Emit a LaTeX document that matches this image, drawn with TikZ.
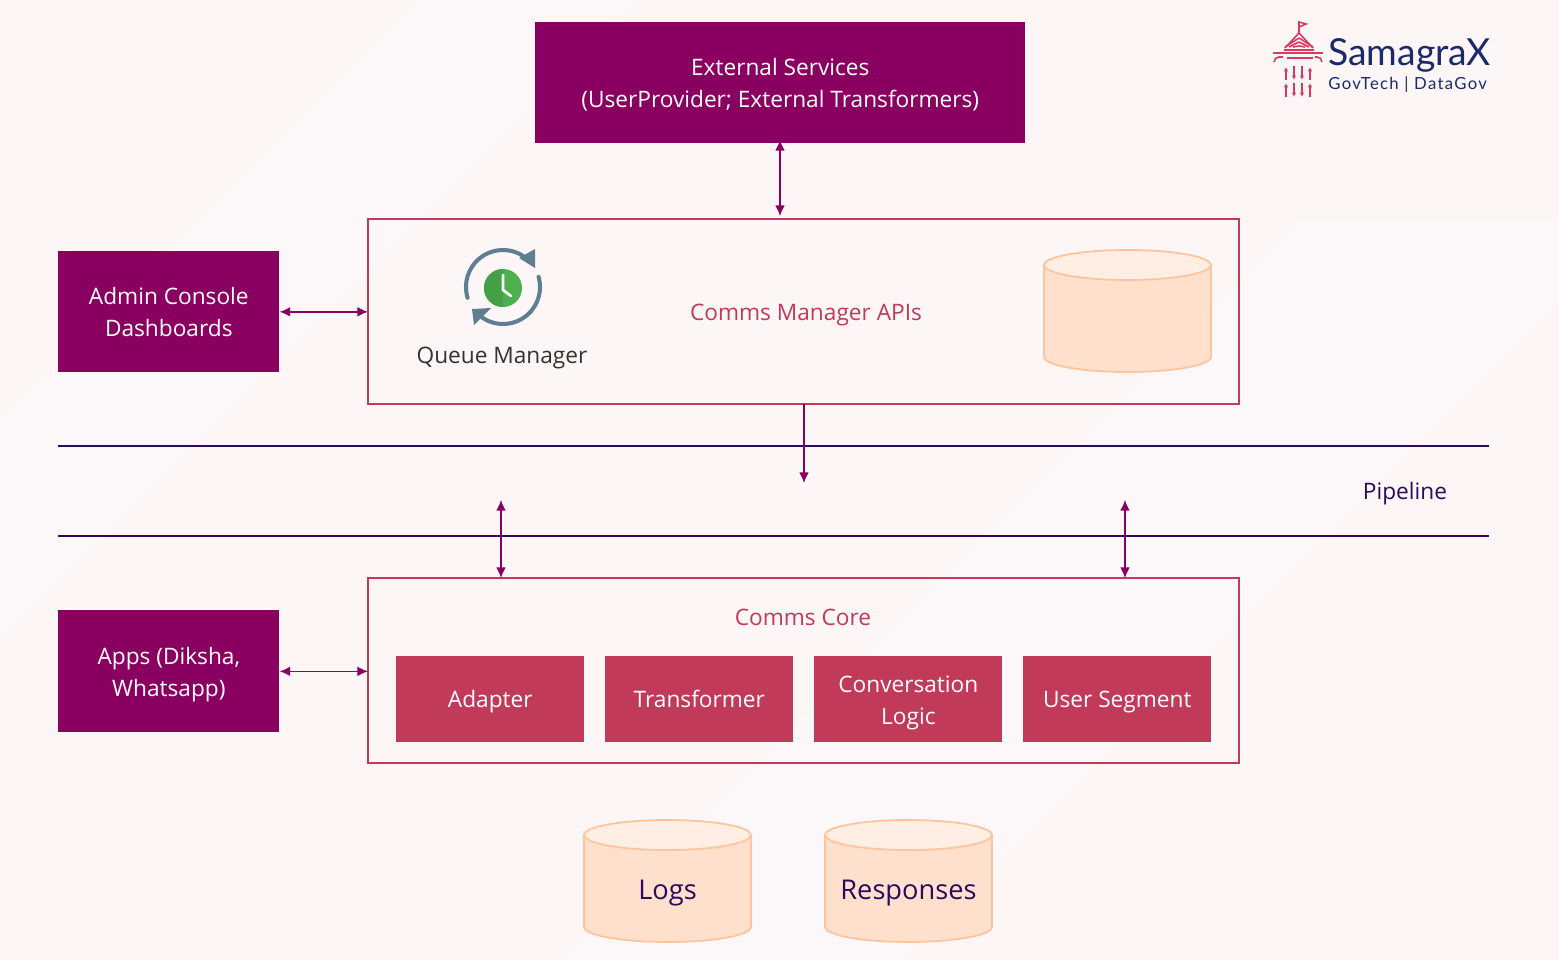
\documentclass[tikz,border=0pt]{standalone}
\usepackage{fontspec}
\setmainfont{Open Sans}
\newfontfamily\logofont{Lato}
\newfontfamily\logospaced[LetterSpace=8]{Lato}
\usetikzlibrary{arrows.meta}
\definecolor{plumbox}{HTML}{8A0060}
\definecolor{rosebox}{HTML}{C13A5A}
\definecolor{pipeink}{HTML}{2C0A5C}
\definecolor{canfill}{HTML}{FFE0CC}
\definecolor{cantop}{HTML}{FEEEE3}
\definecolor{canedge}{HTML}{FFC49B}
\definecolor{pagetint}{HTML}{FCF6F7}
\definecolor{pagelight}{HTML}{FCF8F9}
\definecolor{navylogo}{HTML}{1B2A6B}
\definecolor{logorose}{HTML}{D93A5E}
\definecolor{ringgrey}{HTML}{5F7F90}
\definecolor{clockgreen}{HTML}{4CAF50}
\definecolor{clockdark}{HTML}{43A047}
\tikzset{
	boxtext/.style = {text = white, inner sep = 0pt, align = center, yshift = -2pt, font = \fontsize{12.9}{18}\selectfont},
	plumnode/.style = {fill = plumbox, anchor = north west, inner sep = 0pt},
	corenode/.style = {fill = rosebox, anchor = north west, inner sep = 0pt, minimum width = 3.76cm, minimum height = 1.72cm},
	framenode/.style = {draw = rosebox, line width = 1pt, anchor = north west, inner sep = 0pt, outer sep = 0pt, minimum width = 17.42cm},
	roselabel/.style = {text = rosebox, font = \fontsize{12.9}{18}\selectfont},
	linkarrow/.style = {draw = plumbox, line width = 0.8pt, {Latex[length = 6pt, width = 5.5pt]}-{Latex[length = 6pt, width = 5.5pt]}},
	droparrow/.style = {draw = plumbox, line width = 0.8pt, -{Latex[length = 6pt, width = 5.5pt]}},
	pipeline/.style = {draw = pipeink, line width = 0.9pt},
	logobar/.style = {draw = logorose, line width = 0.9pt},
	logotip/.style = {draw = logorose, line width = 0.7pt, -{Latex[length = 2.5pt, width = 2.5pt]}}
}
\newcommand{\dbcan}[3]{
	\draw[draw = canedge, fill = canfill, line width = 1pt] (#2-83.5,#3-46) -- (#2-83.5,#3+46) arc[start angle = 180, end angle = 0, x radius = 83.5, y radius = 15] -- (#2+83.5,#3-46) -- cycle;
	\draw[draw = canedge, fill = cantop, line width = 1pt] (#2,#3-46) ellipse[x radius = 83.5, y radius = 15];
	\node[inner sep = 0pt] (#1) at (#2,#3) {};
}
\begin{document}
\begin{tikzpicture}[x = 0.02cm, y = -0.02cm]
	\useasboundingbox (0,0) rectangle (1559,960);
	\fill[pagetint] (0,0) rectangle (1559,960);
	\fill[pagelight] (0,420) -- (420,0) -- (640,0) -- (0,640) -- cycle;
	\fill[pagelight] (560,960) -- (1300,220) -- (1559,220) -- (1559,300) -- (900,960) -- cycle;

	\node[plumnode, minimum width = 9.8cm, minimum height = 2.42cm] (external) at (535,22) {};
	\node[boxtext] (externaltext) at ([yshift = 0.85pt]external.center) {External Services\\(UserProvider; External Transformers)};
	\node[framenode, minimum height = 3.7cm] (manager) at (368,219) {};
	\node[plumnode, minimum width = 4.42cm, minimum height = 2.42cm] (admin) at (58,251) {};
	\node[boxtext] (admintext) at ([yshift = 2pt]admin.center) {Admin Console\\Dashboards};
	\node[framenode, minimum height = 3.7cm] (core) at (368,578) {};
	\node[plumnode, minimum width = 4.42cm, minimum height = 2.44cm] (apps) at (58,610) {};
	\node[boxtext] (appstext) at (apps.center) {Apps (Diksha,\\Whatsapp)};

	\node[roselabel] (managerlabel) at (806,315) {Comms Manager APIs};
	\node[roselabel] (corelabel) at (803,617) {Comms Core};
	\node[text = black!80, font = \fontsize{12.9}{18}\selectfont] (queue) at (502,358) {Queue Manager};
	\node[text = pipeink, font = \fontsize{12.9}{18}\selectfont] (pipelabel) at (1405,494) {Pipeline};

	\node[corenode] (adapter) at (396,656) {};
	\node[boxtext] (adaptertext) at ([yshift = 0.5pt]adapter.center) {Adapter};
	\node[corenode] (transformer) at (605,656) {};
	\node[boxtext] (transformertext) at ([yshift = 2.2pt]transformer.center) {Transformer};
	\node[corenode] (logic) at (814,656) {};
	\node[boxtext] (logictext) at (logic.center) {Conversation\\Logic};
	\node[corenode] (segment) at (1023,656) {};
	\node[boxtext] (segmenttext) at ([yshift = 0.5pt]segment.center) {User Segment};

	\dbcan{store}{1127.5}{311}
	\dbcan{logs}{667.5}{881}
	\dbcan{responses}{908.5}{881}
	\node[text = pipeink, font = \fontsize{15.5}{20}\selectfont] (logslabel) at (667.5,893) {Logs};
	\node[text = pipeink, font = \fontsize{15.5}{20}\selectfont] (responseslabel) at (908.5,893) {Responses};

	\coordinate (pipeaw) at (58,446); \coordinate (pipeae) at (1489,446);
	\coordinate (pipebw) at (58,536); \coordinate (pipebe) at (1489,536);
	\draw[pipeline] (pipeaw) -- (pipeae);
	\draw[pipeline] (pipebw) -- (pipebe);

	\coordinate (extfoot) at (780,140); \coordinate (mgrhead) at (780,216);
	\draw[linkarrow] (extfoot) -- (mgrhead);
	\draw[linkarrow] (admin.east) -- (manager.west |- admin.east);
	\draw[linkarrow] (apps.east) -- (core.west |- apps.east);
	\coordinate (mgrfoot) at (804,404); \coordinate (pipedrop) at (804,483);
	\draw[droparrow] (mgrfoot) -- (pipedrop);
	\coordinate (pipeleft) at (501,500); \coordinate (coreleft) at (501,578);
	\coordinate (piperight) at (1125,500); \coordinate (coreright) at (1125,578);
	\draw[linkarrow] (pipeleft) -- (coreleft);
	\draw[linkarrow] (piperight) -- (coreright);

	\draw[ringgrey, line width = 2.3pt, line cap = round] (503,287) ++(163:37) arc[start angle = 163, end angle = 307, radius = 37];
	\draw[ringgrey, line width = 2.3pt, line cap = round] (503,287) ++(-16:37) arc[start angle = -16, end angle = 124, radius = 37];
	\fill[ringgrey] (535,249) -- (535,268) -- (519,258) -- cycle;
	\fill[ringgrey] (472,309) -- (491,308) -- (474,325) -- cycle;
	\fill[clockgreen] (503,288) circle (19);
	\fill[clockdark] (503,269) arc[start angle = 270, end angle = 90, radius = 19] -- cycle;
	\draw[white, line width = 1.5pt, line cap = round] (503,275) -- (503,290) -- (511,296);

	\node[text = navylogo, font = \logofont\fontsize{21.2}{24}\selectfont, anchor = west, inner sep = 0pt] (samagra) at (1328,55) {SamagraX};
	\node[text = navylogo, font = \logospaced\fontsize{9.5}{11}\selectfont, anchor = west, inner sep = 0pt] (govtech) at (1328,85) {GovTech | DataGov};
	\draw[logobar] (1273,53) -- (1323,53);
	\draw[logobar] (1287,58) -- (1313,58);
	\draw[logobar] (1284,50) -- (1314,50);
	\foreach \xs/\ys/\yt in {1285/47/38,1289/47/42,1293/47/46} {
		\pgfmathsetmacro{\xm}{2598 - \xs}
		\draw[logobar] (\xs,\ys) -- (1299,\yt);
		\draw[logobar] (\xm,\ys) -- (1299,\yt);
	}
	\draw[logobar] (1285,48) -- (1299,33) -- (1313,48);
	\draw[logobar] (1274,62) arc[start angle = 180, end angle = 270, radius = 5] -- (1283,57);
	\draw[logobar] (1322,62) arc[start angle = 0, end angle = -90, radius = 5] -- (1315,57);
	\draw[logobar] (1299,33) -- (1299,22) -- (1306,24) -- (1299,27);
	\draw[logotip] (1286,80) -- (1286,67);
	\draw[logotip] (1286,97) -- (1286,83);
	\draw[logotip] (1294,66) -- (1294,80);
	\draw[logotip] (1294,83) -- (1294,97);
	\draw[logotip] (1302,66) -- (1302,80);
	\draw[logotip] (1302,83) -- (1302,97);
	\draw[logotip] (1310,80) -- (1310,67);
	\draw[logotip] (1310,97) -- (1310,83);
\end{tikzpicture}
\end{document}
